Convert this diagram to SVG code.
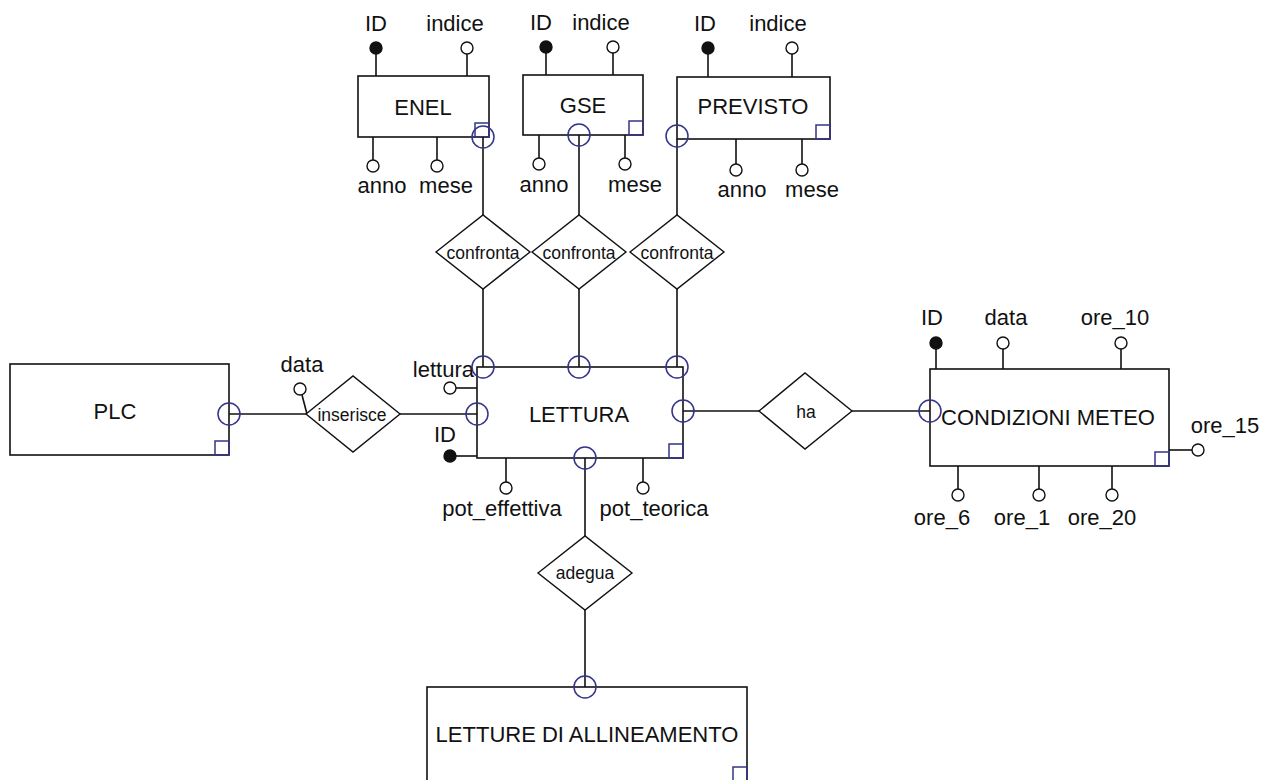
<svg xmlns="http://www.w3.org/2000/svg" width="1273" height="780" viewBox="0 0 1273 780">
  <style>
    .ent { fill: #fff; stroke: #111; stroke-width: 1.6; }
    .rel { fill: #fff; stroke: #111; stroke-width: 1.4; }
    .ln { stroke: #111; stroke-width: 1.6; fill: none; }
    .att { fill: #fff; stroke: #111; stroke-width: 1.4; }
    .key { fill: #111; stroke: #111; stroke-width: 1.4; }
    .card { fill: none; stroke: #34348a; stroke-width: 1.5; }
    .t { font-family: "Liberation Sans", Arial, sans-serif; font-size: 22px; fill: #111; text-anchor: middle; }
    .rt { font-size: 17.5px; }
    .end { text-anchor: end; }
  </style>
  <rect width="1273" height="780" fill="#fff"/>

  <!-- entity ENEL -->
  <g id="enel">
    <line class="ln" x1="376" y1="54" x2="376" y2="76"/>
    <line class="ln" x1="467" y1="54" x2="467" y2="76"/>
    <line class="ln" x1="373" y1="137" x2="373" y2="160"/>
    <line class="ln" x1="437" y1="137" x2="437" y2="160"/>
    <rect class="ent" x="358" y="76" width="131" height="61"/>
    <text class="t" x="423" y="115">ENEL</text>
    <circle class="key" cx="376" cy="48" r="6"/>
    <circle class="att" cx="467" cy="48" r="6"/>
    <circle class="att" cx="373" cy="166" r="6"/>
    <circle class="att" cx="437" cy="166" r="6"/>
    <text class="t" x="376" y="31">ID</text>
    <text class="t" x="455" y="31">indice</text>
    <text class="t" x="382" y="193">anno</text>
    <text class="t" x="446" y="193">mese</text>
    <rect class="card" x="475" y="123" width="14" height="14"/>
  </g>

  <!-- entity GSE -->
  <g id="gse">
    <line class="ln" x1="546" y1="53" x2="546" y2="75"/>
    <line class="ln" x1="613" y1="53" x2="613" y2="75"/>
    <line class="ln" x1="539" y1="135" x2="539" y2="158"/>
    <line class="ln" x1="625" y1="135" x2="625" y2="158"/>
    <rect class="ent" x="523" y="75" width="120" height="60"/>
    <text class="t" x="583" y="113">GSE</text>
    <circle class="key" cx="546" cy="47" r="6"/>
    <circle class="att" cx="613" cy="47" r="6"/>
    <circle class="att" cx="539" cy="164" r="6"/>
    <circle class="att" cx="625" cy="164" r="6"/>
    <text class="t" x="541" y="30">ID</text>
    <text class="t" x="601" y="30">indice</text>
    <text class="t" x="544" y="192">anno</text>
    <text class="t" x="635" y="192">mese</text>
    <rect class="card" x="629" y="121" width="14" height="14"/>
  </g>

  <!-- entity PREVISTO -->
  <g id="previsto">
    <line class="ln" x1="708" y1="54" x2="708" y2="77"/>
    <line class="ln" x1="792" y1="54" x2="792" y2="77"/>
    <line class="ln" x1="736" y1="139" x2="736" y2="164"/>
    <line class="ln" x1="802" y1="139" x2="802" y2="164"/>
    <rect class="ent" x="677" y="77" width="153" height="62"/>
    <text class="t" x="753" y="114">PREVISTO</text>
    <circle class="key" cx="708" cy="48" r="6"/>
    <circle class="att" cx="792" cy="48" r="6"/>
    <circle class="att" cx="736" cy="170" r="6"/>
    <circle class="att" cx="802" cy="170" r="6"/>
    <text class="t" x="705" y="31">ID</text>
    <text class="t" x="778" y="31">indice</text>
    <text class="t" x="742" y="197">anno</text>
    <text class="t" x="812" y="197">mese</text>
    <rect class="card" x="816" y="125" width="14" height="14"/>
  </g>

  <!-- entity PLC -->
  <g id="plc">
    <rect class="ent" x="10" y="364" width="219" height="91"/>
    <text class="t" x="115" y="419">PLC</text>
    <rect class="card" x="215" y="441" width="14" height="14"/>
  </g>

  <!-- entity LETTURA -->
  <g id="lettura">
    <line class="ln" x1="456" y1="388" x2="477" y2="388"/>
    <line class="ln" x1="456" y1="456" x2="477" y2="456"/>
    <line class="ln" x1="506" y1="458" x2="506" y2="482"/>
    <line class="ln" x1="643" y1="458" x2="643" y2="482"/>
    <rect class="ent" x="477" y="367" width="206" height="91"/>
    <text class="t" x="579" y="422">LETTURA</text>
    <circle class="att" cx="450" cy="388" r="6"/>
    <circle class="key" cx="450" cy="456" r="6"/>
    <circle class="att" cx="506" cy="488" r="6"/>
    <circle class="att" cx="643" cy="488" r="6"/>
    <text class="t end" x="474" y="377">lettura</text>
    <text class="t" x="445" y="442">ID</text>
    <text class="t" x="502" y="516">pot_effettiva</text>
    <text class="t" x="654" y="516">pot_teorica</text>
    <rect class="card" x="669" y="444" width="14" height="14"/>
  </g>

  <!-- entity CONDIZIONI METEO -->
  <g id="condizioni-meteo">
    <line class="ln" x1="936" y1="349" x2="936" y2="369"/>
    <line class="ln" x1="1003" y1="349" x2="1003" y2="369"/>
    <line class="ln" x1="1121" y1="349" x2="1121" y2="369"/>
    <line class="ln" x1="1169" y1="450" x2="1192" y2="450"/>
    <line class="ln" x1="958" y1="466" x2="958" y2="489"/>
    <line class="ln" x1="1039" y1="466" x2="1039" y2="489"/>
    <line class="ln" x1="1112" y1="466" x2="1112" y2="489"/>
    <rect class="ent" x="930" y="369" width="239" height="97"/>
    <text class="t" x="1048" y="425">CONDIZIONI METEO</text>
    <circle class="key" cx="936" cy="343" r="6"/>
    <circle class="att" cx="1003" cy="343" r="6"/>
    <circle class="att" cx="1121" cy="343" r="6"/>
    <circle class="att" cx="1198" cy="450" r="6"/>
    <circle class="att" cx="958" cy="495" r="6"/>
    <circle class="att" cx="1039" cy="495" r="6"/>
    <circle class="att" cx="1112" cy="495" r="6"/>
    <text class="t" x="932" y="325">ID</text>
    <text class="t" x="1006" y="325">data</text>
    <text class="t" x="1115" y="325">ore_10</text>
    <text class="t" x="1225" y="433">ore_15</text>
    <text class="t" x="942" y="525">ore_6</text>
    <text class="t" x="1022" y="525">ore_1</text>
    <text class="t" x="1102" y="525">ore_20</text>
    <rect class="card" x="1155" y="452" width="14" height="14"/>
  </g>

  <!-- entity LETTURE DI ALLINEAMENTO -->
  <g id="letture-allineamento">
    <rect class="ent" x="427" y="687" width="320" height="95"/>
    <text class="t" x="587" y="742">LETTURE DI ALLINEAMENTO</text>
    <rect class="card" x="733" y="767" width="14" height="14"/>
  </g>

  <!-- relationships -->
  <g id="confronta-enel">
    <polygon class="rel" points="436,252 483,215 530,252 483,289"/>
    <text class="t rt" x="483" y="259">confronta</text>
  </g>
  <g id="confronta-gse">
    <polygon class="rel" points="532,252 579,215 626,252 579,289"/>
    <text class="t rt" x="579" y="259">confronta</text>
  </g>
  <g id="confronta-previsto">
    <polygon class="rel" points="630,252 677,215 724,252 677,289"/>
    <text class="t rt" x="677" y="259">confronta</text>
  </g>
  <g id="inserisce">
    <line class="ln" x1="302" y1="395" x2="307" y2="414"/>
    <polygon class="rel" points="306,414 353,376 400,414 353,452"/>
    <circle class="att" cx="300" cy="389" r="6"/>
    <text class="t" x="302" y="372">data</text>
    <text class="t rt" x="352" y="421">inserisce</text>
  </g>
  <g id="ha">
    <polygon class="rel" points="759,411 805,373 852,411 805,449"/>
    <text class="t rt" x="806" y="418">ha</text>
  </g>
  <g id="adegua">
    <polygon class="rel" points="538,573 585,536 632,573 585,610"/>
    <text class="t rt" x="585" y="579">adegua</text>
  </g>

  <!-- connectors -->
  <g id="connectors">
    <line class="ln" x1="483" y1="137" x2="483" y2="215"/>
    <line class="ln" x1="483" y1="289" x2="483" y2="367"/>
    <line class="ln" x1="579" y1="135" x2="579" y2="215"/>
    <line class="ln" x1="579" y1="289" x2="579" y2="367"/>
    <line class="ln" x1="677" y1="139" x2="677" y2="215"/>
    <line class="ln" x1="677" y1="289" x2="677" y2="367"/>
    <line class="ln" x1="229" y1="414" x2="306" y2="414"/>
    <line class="ln" x1="400" y1="414" x2="477" y2="414"/>
    <line class="ln" x1="683" y1="411" x2="759" y2="411"/>
    <line class="ln" x1="852" y1="411" x2="930" y2="411"/>
    <line class="ln" x1="585" y1="458" x2="585" y2="536"/>
    <line class="ln" x1="585" y1="610" x2="585" y2="687"/>
    <circle class="card" cx="483" cy="137" r="11"/>
    <circle class="card" cx="579" cy="135" r="11"/>
    <circle class="card" cx="677" cy="136" r="11"/>
    <circle class="card" cx="483" cy="367" r="11"/>
    <circle class="card" cx="579" cy="367" r="11"/>
    <circle class="card" cx="677" cy="367" r="11"/>
    <circle class="card" cx="229" cy="414" r="11"/>
    <circle class="card" cx="477" cy="414" r="11"/>
    <circle class="card" cx="683" cy="411" r="11"/>
    <circle class="card" cx="930" cy="411" r="11"/>
    <circle class="card" cx="585" cy="458" r="11"/>
    <circle class="card" cx="585" cy="687" r="11"/>
  </g>
</svg>
